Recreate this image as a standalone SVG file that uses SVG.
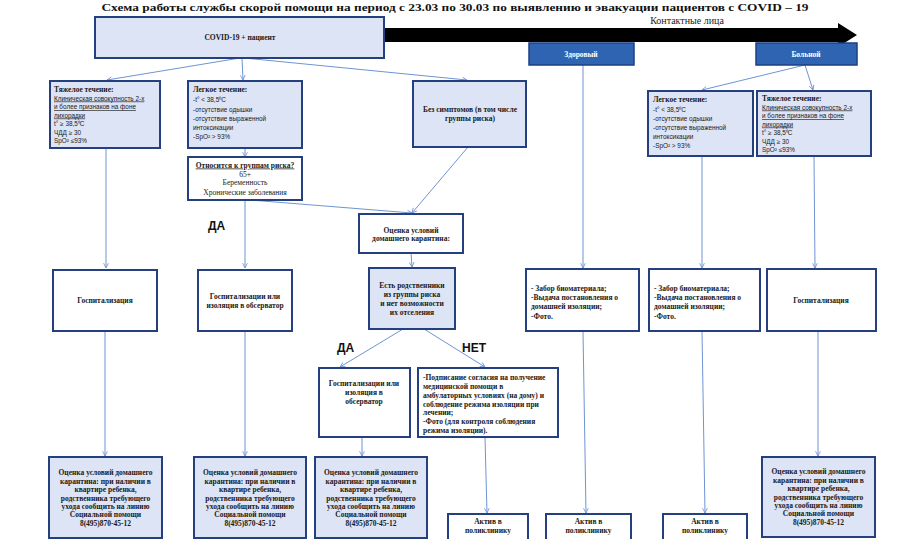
<svg xmlns="http://www.w3.org/2000/svg" width="921" height="539" viewBox="0 0 921 539">
<defs>
<marker id="ah" viewBox="0 0 10 10" refX="9" refY="5" markerWidth="6" markerHeight="6" orient="auto" markerUnits="userSpaceOnUse">
<path d="M1,1 L9,5 L1,9" fill="none" stroke="#6f93d4" stroke-width="1.4"/>
</marker>
<style>
.box{stroke:#24407f;stroke-width:2}
.lav{fill:#dde4f6}
.wht{fill:#ffffff}
.blu{fill:#2f64b2;stroke:#1d3f80;stroke-width:1.5}
.t{font-family:"Liberation Serif",serif;font-weight:bold;font-size:7.5px;fill:#1a1a1a}
.r{font-family:"Liberation Serif",serif;font-size:7.5px;fill:#1a1a1a}
.s{font-family:"Liberation Sans",sans-serif;font-size:6.4px;fill:#1a1a1a}
.u{text-decoration:underline}
.c{text-anchor:middle}
.w{fill:#ffffff}
.lbl{font-family:"Liberation Sans",sans-serif;font-weight:bold;font-size:12px;fill:#111}
#conn line{stroke:#6f93d4;stroke-width:1;fill:none;marker-end:url(#ah)}
</style>
</defs>
<rect width="921" height="539" fill="#ffffff"/>
<text x="455" y="10.5" text-anchor="middle" textLength="707" lengthAdjust="spacingAndGlyphs" style="font-family:'Liberation Serif',serif;font-weight:bold;font-size:11px;fill:#111">Схема работы службы скорой помощи на период с 23.03 по 30.03 по выявлению и эвакуации пациентов с COVID – 19</text>
<text x="687" y="23.5" text-anchor="middle" style="font-family:'Liberation Serif',serif;font-size:10px;fill:#222">Контактные лица</text>
<polygon points="384,28 838,28 838,23 857,35 838,47 838,42 384,42" fill="#000"/>

<g id="conn">
<line x1="240" y1="58" x2="107" y2="80"/>
<line x1="242" y1="58" x2="243" y2="80"/>
<line x1="244" y1="58" x2="467" y2="80"/>
<line x1="245" y1="148" x2="245" y2="157"/>
<line x1="106" y1="148" x2="106" y2="268"/>
<line x1="245" y1="200" x2="245" y2="268"/>
<line x1="250" y1="200" x2="412" y2="213"/>
<line x1="468" y1="147" x2="412" y2="213"/>
<line x1="411" y1="253" x2="412" y2="267"/>
<line x1="403" y1="329" x2="340" y2="367"/>
<line x1="424" y1="329" x2="485" y2="367"/>
<line x1="583" y1="65" x2="583" y2="268"/>
<line x1="805" y1="65" x2="702" y2="90"/>
<line x1="805" y1="65" x2="813" y2="90"/>
<line x1="702" y1="156" x2="702" y2="268"/>
<line x1="814" y1="156" x2="815" y2="268"/>
<line x1="105" y1="331" x2="105" y2="456"/>
<line x1="245" y1="331" x2="245" y2="456"/>
<line x1="362" y1="437" x2="362" y2="456"/>
<line x1="485" y1="437" x2="487" y2="513"/>
<line x1="583" y1="331" x2="586" y2="513"/>
<line x1="702" y1="331" x2="705" y2="513"/>
<line x1="818" y1="331" x2="818" y2="456"/>
</g>

<g id="covid">
<rect class="box lav" x="95" y="17" width="289" height="41"/>
<text class="t c" x="240" y="40">COVID-19 + пациент</text>
</g>
<g id="zdorovy">
<rect class="blu" x="529" y="43" width="105" height="22"/>
<text class="t c w" x="581" y="56.5">Здоровый</text>
</g>
<g id="bolnoy">
<rect class="blu" x="756" y="43" width="101" height="22"/>
<text class="t c w" x="806" y="56.5">Больной</text>
</g>

<g id="heavy-left">
<rect class="box lav" x="50" y="81" width="110" height="67"/>
<text class="t" x="54" y="91.5">Тяжелое течение:</text>
<text class="s u" x="54" y="100.5">Клиническая совокупность 2-х</text>
<text class="s u" x="54" y="109">и более признаков на фоне</text>
<text class="s u" x="54" y="117.5">лихорадки</text>
<text class="s" x="54" y="126">t° ≥ 38,5⁰C</text>
<text class="s" x="54" y="134.5">ЧДД ≥ 30</text>
<text class="s" x="54" y="143">SpO² ≤93%</text>
</g>
<g id="light-left">
<rect class="box lav" x="188" y="81" width="114" height="67"/>
<text class="t" x="193" y="92">Легкое течение:</text>
<text class="s" x="193" y="102">-t° &lt; 38,5⁰C</text>
<text class="s" x="193" y="111.5">-отсутствие одышки</text>
<text class="s" x="193" y="120.5">-отсутствие выраженной</text>
<text class="s" x="193" y="129.5">интоксикации</text>
<text class="s" x="193" y="139">-SpO² &gt; 93%</text>
</g>
<g id="risk">
<rect class="box wht" x="188" y="157" width="114" height="43"/>
<text class="t c u" x="245" y="167.5">Относится к группам риска?</text>
<text class="r c" x="245" y="176.5">65+</text>
<text class="r c" x="245" y="185">Беременность</text>
<text class="r c" x="245" y="194.5">Хронические заболевания</text>
</g>
<g id="nosympt">
<rect class="box lav" x="413" y="81" width="113" height="66"/>
<text class="t c" x="470" y="112">Без симптомов (в том числе</text>
<text class="t c" x="470" y="121">группы риска)</text>
</g>
<g id="home-eval">
<rect class="box wht" x="359" y="214" width="104" height="39"/>
<text class="t c" x="411" y="232.5">Оценка условий</text>
<text class="t c" x="411" y="241">домашнего карантина:</text>
</g>
<g id="light-right">
<rect class="box lav" x="648" y="91" width="105" height="65"/>
<text class="t" x="653" y="102">Легкое течение:</text>
<text class="s" x="653" y="111.5">-t° &lt; 38,5⁰C</text>
<text class="s" x="653" y="120.5">-отсутствие одышки</text>
<text class="s" x="653" y="129.5">-отсутствие выраженной</text>
<text class="s" x="653" y="138.5">интоксикации</text>
<text class="s" x="653" y="147.5">-SpO² &gt; 93%</text>
</g>
<g id="heavy-right">
<rect class="box lav" x="757" y="91" width="114" height="65"/>
<text class="t" x="762" y="101">Тяжелое течение:</text>
<text class="s u" x="762" y="109.5">Клиническая совокупность 2-х</text>
<text class="s u" x="762" y="118">и более признаков на фоне</text>
<text class="s u" x="762" y="126.5">лихорадки</text>
<text class="s" x="762" y="135">t° ≥ 38,5⁰C</text>
<text class="s" x="762" y="143.5">ЧДД ≥ 30</text>
<text class="s" x="762" y="152">SpO² ≤93%</text>
</g>

<text class="lbl" x="208" y="230">ДА</text>

<g id="hosp-left">
<rect class="box wht" x="53" y="270" width="104" height="61"/>
<text class="t c" x="105" y="303">Госпитализация</text>
</g>
<g id="hosp-obs">
<rect class="box wht" x="198" y="270" width="94" height="61"/>
<text class="t c" x="245" y="298.5">Госпитализации или</text>
<text class="t c" x="245" y="307.5">изоляция в обсерватор</text>
</g>
<g id="relatives">
<rect class="box lav" x="369" y="268" width="86" height="61"/>
<text class="t c" x="412" y="287.5">Есть родственники</text>
<text class="t c" x="412" y="296.5">из группы риска</text>
<text class="t c" x="412" y="305.5">и нет возможности</text>
<text class="t c" x="412" y="314.5">их отселения</text>
</g>
<g id="sample-1">
<rect class="box wht" x="526" y="269" width="113" height="62"/>
<text class="t" x="531" y="290.5">- Забор биоматериала;</text>
<text class="t" x="531" y="299.5">-Выдача постановления о</text>
<text class="t" x="531" y="309">домашней изоляции;</text>
<text class="t" x="531" y="318.5">-Фото.</text>
</g>
<g id="sample-2">
<rect class="box wht" x="649" y="269" width="111" height="62"/>
<text class="t" x="654" y="290.5">- Забор биоматериала;</text>
<text class="t" x="654" y="299.5">-Выдача постановления о</text>
<text class="t" x="654" y="309">домашней изоляции;</text>
<text class="t" x="654" y="318.5">-Фото.</text>
</g>
<g id="hosp-right">
<rect class="box wht" x="767" y="269" width="109" height="62"/>
<text class="t c" x="821" y="303">Госпитализация</text>
</g>

<text class="lbl" x="337" y="352">ДА</text>
<text class="lbl" x="462" y="352">НЕТ</text>

<g id="hosp-obs-2">
<rect class="box wht" x="319" y="368" width="91" height="69"/>
<text class="t c" x="364" y="385.5">Госпитализации или</text>
<text class="t c" x="364" y="394.5">изоляция в</text>
<text class="t c" x="364" y="403.5">обсерватор</text>
</g>
<g id="consent">
<rect class="box wht" x="418" y="368" width="140" height="69"/>
<text class="t" x="423" y="379.5">-Подписание согласия на получение</text>
<text class="t" x="423" y="388.5">медицинской помощи в</text>
<text class="t" x="423" y="397.5">амбулаторных условиях (на дому) и</text>
<text class="t" x="423" y="406.5">соблюдение режима изоляции при</text>
<text class="t" x="423" y="415">лечении;</text>
<text class="t" x="423" y="424">-Фото (для контроля соблюдения</text>
<text class="t" x="423" y="432.5">режима изоляции).</text>
</g>

<g id="eval-1">
<rect class="box lav" x="49" y="457" width="113" height="81"/>
<text class="t c" x="105.5" y="474.5">Оценка условий домашнего</text>
<text class="t c" x="105.5" y="483.5">карантина: при наличии в</text>
<text class="t c" x="105.5" y="491.5">квартире ребенка,</text>
<text class="t c" x="105.5" y="500.5">родственника требующего</text>
<text class="t c" x="105.5" y="508.5">ухода сообщить на линию</text>
<text class="t c" x="105.5" y="516.5">Социальной помощи</text>
<text class="t c" x="105.5" y="525.5">8(495)870-45-12</text>
</g>
<g id="eval-2">
<rect class="box lav" x="194" y="457" width="112" height="81"/>
<text class="t c" x="250" y="474.5">Оценка условий домашнего</text>
<text class="t c" x="250" y="483.5">карантина: при наличии в</text>
<text class="t c" x="250" y="491.5">квартире ребенка,</text>
<text class="t c" x="250" y="500.5">родственника требующего</text>
<text class="t c" x="250" y="508.5">ухода сообщить на линию</text>
<text class="t c" x="250" y="516.5">Социальной помощи</text>
<text class="t c" x="250" y="525.5">8(495)870-45-12</text>
</g>
<g id="eval-3">
<rect class="box lav" x="315" y="457" width="112" height="81"/>
<text class="t c" x="371" y="474.5">Оценка условий домашнего</text>
<text class="t c" x="371" y="483.5">карантина: при наличии в</text>
<text class="t c" x="371" y="491.5">квартире ребенка,</text>
<text class="t c" x="371" y="500.5">родственника требующего</text>
<text class="t c" x="371" y="508.5">ухода сообщить на линию</text>
<text class="t c" x="371" y="516.5">Социальной помощи</text>
<text class="t c" x="371" y="525.5">8(495)870-45-12</text>
</g>
<g id="eval-4">
<rect class="box lav" x="762" y="457" width="113" height="80"/>
<text class="t c" x="818.5" y="473.5">Оценка условий домашнего</text>
<text class="t c" x="818.5" y="482.5">карантина: при наличии в</text>
<text class="t c" x="818.5" y="490.5">квартире ребенка,</text>
<text class="t c" x="818.5" y="499.5">родственника требующего</text>
<text class="t c" x="818.5" y="507.5">ухода сообщить на линию</text>
<text class="t c" x="818.5" y="515.5">Социальной помощи</text>
<text class="t c" x="818.5" y="524.5">8(495)870-45-12</text>
</g>

<g id="aktiv-1">
<rect class="box wht" x="448" y="514" width="80" height="30"/>
<text class="t c" x="488" y="523.5">Актив в</text>
<text class="t c" x="488" y="532.5">поликлинику</text>
</g>
<g id="aktiv-2">
<rect class="box wht" x="546" y="514" width="85" height="30"/>
<text class="t c" x="588.5" y="523.5">Актив в</text>
<text class="t c" x="588.5" y="532.5">поликлинику</text>
</g>
<g id="aktiv-3">
<rect class="box wht" x="663" y="514" width="84" height="30"/>
<text class="t c" x="705" y="523.5">Актив в</text>
<text class="t c" x="705" y="532.5">поликлинику</text>
</g>
</svg>
